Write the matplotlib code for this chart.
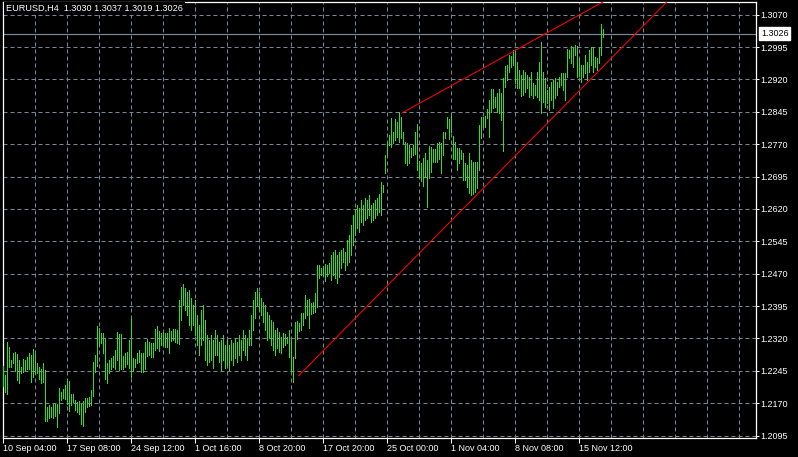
import matplotlib
matplotlib.use("Agg")
import matplotlib.pyplot as plt
import numpy as np

# ---------------- data ----------------
symbol = "EURUSD,H4"
last_ohlc = [1.3030, 1.3037, 1.3019, 1.3026]
bid = 1.3026

high = [
    1.2256, 1.2235, 1.2312, 1.2301, 1.2270, 1.2287, 1.2289, 1.2285, 1.2270, 1.2254,
    1.2273, 1.2270, 1.2277, 1.2287, 1.2282, 1.2296, 1.2285, 1.2263, 1.2254, 1.2249,
    1.2263, 1.2247, 1.2162, 1.2166, 1.2162, 1.2169, 1.2169, 1.2169, 1.2205, 1.2196,
    1.2203, 1.2212, 1.2226, 1.2222, 1.2192, 1.2192, 1.2178, 1.2173, 1.2175, 1.2169,
    1.2175, 1.2182, 1.2182, 1.2185, 1.2201, 1.2266, 1.2282, 1.2349, 1.2344, 1.2333,
    1.2333, 1.2321, 1.2263, 1.2270, 1.2275, 1.2280, 1.2294, 1.2335, 1.2331, 1.2331,
    1.2280, 1.2287, 1.2289, 1.2317, 1.2368, 1.2275, 1.2273, 1.2287, 1.2294, 1.2287,
    1.2287, 1.2312, 1.2319, 1.2312, 1.2310, 1.2310, 1.2342, 1.2349, 1.2338, 1.2333,
    1.2335, 1.2333, 1.2333, 1.2344, 1.2338, 1.2342, 1.2342, 1.2340, 1.2409, 1.2439,
    1.2446, 1.2437, 1.2428, 1.2432, 1.2414, 1.2398, 1.2409, 1.2375, 1.2351, 1.2386,
    1.2398, 1.2363, 1.2328, 1.2317, 1.2328, 1.2317, 1.2340, 1.2328, 1.2312, 1.2317,
    1.2328, 1.2305, 1.2317, 1.2305, 1.2317, 1.2310, 1.2321, 1.2312, 1.2328, 1.2317,
    1.2340, 1.2328, 1.2321, 1.2340, 1.2375, 1.2409, 1.2428, 1.2437, 1.2428, 1.2414,
    1.2405, 1.2398, 1.2382, 1.2375, 1.2363, 1.2358, 1.2340, 1.2344, 1.2335, 1.2324,
    1.2333, 1.2331, 1.2324, 1.2340, 1.2319, 1.2277, 1.2358, 1.2361, 1.2356, 1.2379,
    1.2379, 1.2421, 1.2409, 1.2412, 1.2402, 1.2405, 1.2425, 1.2490, 1.2490, 1.2483,
    1.2488, 1.2493, 1.2490, 1.2495, 1.2513, 1.2520, 1.2525, 1.2513, 1.2520, 1.2525,
    1.2530, 1.2520, 1.2548, 1.2560, 1.2583, 1.2606, 1.2618, 1.2629, 1.2622, 1.2641,
    1.2629, 1.2645, 1.2641, 1.2652, 1.2629, 1.2634, 1.2641, 1.2645, 1.2655, 1.2682,
    1.2675, 1.2745, 1.2773, 1.2791, 1.2831, 1.2798, 1.2828, 1.2821, 1.2845, 1.2833,
    1.2798, 1.2775, 1.2773, 1.2768, 1.2761, 1.2768, 1.2798, 1.2817, 1.2731, 1.2727,
    1.2738, 1.2750, 1.2734, 1.2766, 1.2764, 1.2759, 1.2759, 1.2773, 1.2775, 1.2773,
    1.2798, 1.2798, 1.2833, 1.2828, 1.2838, 1.2789, 1.2775, 1.2761, 1.2761, 1.2757,
    1.2750, 1.2727, 1.2722, 1.2750, 1.2734, 1.2729, 1.2729, 1.2729, 1.2815, 1.2833,
    1.2833, 1.2835, 1.2852, 1.2872, 1.2898, 1.2898, 1.2879, 1.2889, 1.2898, 1.2889,
    1.2923, 1.2951, 1.2953, 1.2977, 1.2974, 1.2988, 1.2986, 1.2960, 1.2942, 1.2930,
    1.2942, 1.2937, 1.2930, 1.2926, 1.2937, 1.2912, 1.2907, 1.2937, 1.2960, 1.3007,
    1.2937, 1.2923, 1.2896, 1.2903, 1.2914, 1.2919, 1.2923, 1.2914, 1.2926, 1.2935,
    1.2935, 1.2935, 1.2991, 1.2988, 1.2997, 1.2993, 1.3000, 1.2997, 1.2970, 1.2953,
    1.2953, 1.2977, 1.2960, 1.2988, 1.2995, 1.2995, 1.2972, 1.2970, 1.2993, 1.3049,
    1.3037,
]

low = [
    1.2210, 1.2196, 1.2192, 1.2254, 1.2254, 1.2263, 1.2245, 1.2224, 1.2217, 1.2240,
    1.2242, 1.2247, 1.2250, 1.2250, 1.2219, 1.2231, 1.2240, 1.2240, 1.2226, 1.2217,
    1.2219, 1.2129, 1.2129, 1.2136, 1.2138, 1.2136, 1.2140, 1.2115, 1.2147, 1.2178,
    1.2182, 1.2180, 1.2169, 1.2152, 1.2166, 1.2173, 1.2154, 1.2150, 1.2145, 1.2122,
    1.2117, 1.2150, 1.2162, 1.2164, 1.2166, 1.2187, 1.2242, 1.2256, 1.2305, 1.2310,
    1.2287, 1.2226, 1.2217, 1.2240, 1.2250, 1.2254, 1.2250, 1.2270, 1.2247, 1.2250,
    1.2250, 1.2254, 1.2261, 1.2252, 1.2231, 1.2245, 1.2254, 1.2263, 1.2266, 1.2242,
    1.2242, 1.2250, 1.2280, 1.2282, 1.2277, 1.2277, 1.2294, 1.2298, 1.2291, 1.2305,
    1.2305, 1.2301, 1.2301, 1.2287, 1.2314, 1.2317, 1.2312, 1.2310, 1.2308, 1.2363,
    1.2398, 1.2386, 1.2375, 1.2351, 1.2340, 1.2351, 1.2328, 1.2305, 1.2282, 1.2305,
    1.2317, 1.2270, 1.2259, 1.2266, 1.2270, 1.2252, 1.2282, 1.2282, 1.2266, 1.2247,
    1.2270, 1.2252, 1.2259, 1.2247, 1.2270, 1.2259, 1.2275, 1.2266, 1.2282, 1.2270,
    1.2294, 1.2282, 1.2270, 1.2305, 1.2305, 1.2340, 1.2368, 1.2398, 1.2386, 1.2375,
    1.2359, 1.2340, 1.2317, 1.2321, 1.2305, 1.2294, 1.2282, 1.2298, 1.2289, 1.2287,
    1.2301, 1.2305, 1.2310, 1.2277, 1.2245, 1.2219, 1.2275, 1.2319, 1.2338, 1.2340,
    1.2351, 1.2368, 1.2375, 1.2344, 1.2377, 1.2379, 1.2382, 1.2393, 1.2460, 1.2467,
    1.2467, 1.2453, 1.2465, 1.2472, 1.2456, 1.2467, 1.2460, 1.2449, 1.2463, 1.2483,
    1.2497, 1.2479, 1.2490, 1.2497, 1.2513, 1.2537, 1.2560, 1.2576, 1.2567, 1.2590,
    1.2583, 1.2595, 1.2599, 1.2606, 1.2590, 1.2595, 1.2599, 1.2606, 1.2613, 1.2606,
    1.2659, 1.2703, 1.2745, 1.2768, 1.2764, 1.2773, 1.2780, 1.2787, 1.2775, 1.2784,
    1.2773, 1.2727, 1.2722, 1.2727, 1.2740, 1.2745, 1.2747, 1.2710, 1.2694, 1.2685,
    1.2673, 1.2694, 1.2625, 1.2692, 1.2706, 1.2729, 1.2729, 1.2729, 1.2736, 1.2703,
    1.2745, 1.2784, 1.2808, 1.2782, 1.2798, 1.2736, 1.2736, 1.2710, 1.2727, 1.2736,
    1.2687, 1.2687, 1.2671, 1.2657, 1.2652, 1.2655, 1.2659, 1.2669, 1.2710, 1.2784,
    1.2810, 1.2810, 1.2831, 1.2787, 1.2845, 1.2854, 1.2856, 1.2845, 1.2842, 1.2826,
    1.2754, 1.2902, 1.2919, 1.2937, 1.2949, 1.2953, 1.2912, 1.2900, 1.2900, 1.2882,
    1.2884, 1.2891, 1.2900, 1.2879, 1.2884, 1.2877, 1.2884, 1.2879, 1.2872, 1.2842,
    1.2868, 1.2856, 1.2865, 1.2849, 1.2872, 1.2854, 1.2877, 1.2884, 1.2902, 1.2907,
    1.2896, 1.2872, 1.2926, 1.2970, 1.2958, 1.2949, 1.2977, 1.2926, 1.2928, 1.2914,
    1.2926, 1.2935, 1.2919, 1.2937, 1.2953, 1.2937, 1.2949, 1.2942, 1.2958, 1.2977,
    1.3019,
]

time_labels = ["10 Sep 04:00", "17 Sep 08:00", "24 Sep 12:00", "1 Oct 16:00",
               "8 Oct 20:00", "17 Oct 20:00", "25 Oct 00:00", "1 Nov 04:00",
               "8 Nov 08:00", "15 Nov 12:00"]
time_label_bars = [0, 32, 64, 96, 128, 160, 192, 224, 256, 288]

price_levels = [1.3070, 1.2995, 1.2920, 1.2845, 1.2770, 1.2695, 1.2620,
                1.2545, 1.2470, 1.2395, 1.2320, 1.2245, 1.2170, 1.2095]

# trend lines: two anchors each (bar index, price), drawn as rays
upper_line_bars = [199.2, 299.2]
upper_line_prices = [1.2842, 1.3098]
lower_line_bars = [147.5, 331.4]
lower_line_prices = [1.2233, 1.3098]

# ---------------- style ----------------
plt.rcParams["font.family"] = ["Liberation Sans", "DejaVu Sans"]
W, H = 798, 457
BG = "black"
FG = "white"
BAR = "#33dd22"
GRID = "#778899"
PX = 0.72  # one pixel in points at dpi 100

fig = plt.figure(figsize=(W / 100, H / 100), dpi=100, facecolor=BG)
left_px, right_px, top_px, bot_px = 2.5, 756, 2, 438
ax = fig.add_axes([left_px / W, 1 - bot_px / H,
                   (right_px - left_px) / W, (bot_px - top_px) / H])
ax.set_facecolor(BG)

ax.set_xlim(-0.4, 376.35)
ax.set_ylim(1.20895, 1.30994)

# grid
for p in price_levels:
    ax.axhline(p, color=GRID, lw=PX, ls=(0, (4, 3)), zorder=1)
for i in range(16, 377, 16):
    ax.axvline(i, color=GRID, lw=PX, ls=(0, (4, 3)), zorder=1)

# bid line
ax.axhline(bid, color=GRID, lw=PX * 1.2, zorder=2)

# bars
x = np.arange(len(high))
ax.vlines(x, low, high, colors=BAR, linewidth=0.55, antialiased=False, zorder=3)

# trend lines (rays to right edge)
xr = ax.get_xlim()[1]
for bx, py in ((upper_line_bars, upper_line_prices), (lower_line_bars, lower_line_prices)):
    slope = (py[1] - py[0]) / (bx[1] - bx[0])
    ax.plot([bx[0], xr], [py[0], py[0] + slope * (xr - bx[0])],
            color="red", lw=0.75, zorder=4, solid_capstyle="butt")

# axes / ticks
for s in ax.spines.values():
    s.set_color(FG)
    s.set_linewidth(0.9)

ax.yaxis.tick_right()
ax.set_yticks(price_levels)
ax.set_yticklabels([f"{p:.4f}" for p in price_levels])
ax.tick_params(axis="y", colors=FG, length=2.4, width=PX, pad=1.0, labelsize=6.5)

ax.set_xticks(time_label_bars)
ax.set_xticklabels(time_labels)
for lab in ax.get_xticklabels():
    lab.set_horizontalalignment("left")
ax.tick_params(axis="x", colors=FG, length=3.6, width=PX, pad=0.6, labelsize=6.5)

# bid label box
ax.annotate(f"{bid:.4f}", xy=(1.0, bid), xycoords=("axes fraction", "data"),
            xytext=(5, 0), textcoords="offset pixels", ha="left", va="center",
            fontsize=6.5, color="black", annotation_clip=False,
            bbox=dict(boxstyle="square,pad=0.2", fc="white", ec="white"))

# header
header = f"{symbol}  " + " ".join(f"{v:.4f}" for v in last_ohlc)
fig.text(6 / W, 1 - 4 / H, header, ha="left", va="top", color=FG, fontsize=6.6,
         bbox=dict(fc=BG, ec="none", pad=1.5), zorder=10)

fig.savefig("out.png", dpi=100, facecolor=BG)
